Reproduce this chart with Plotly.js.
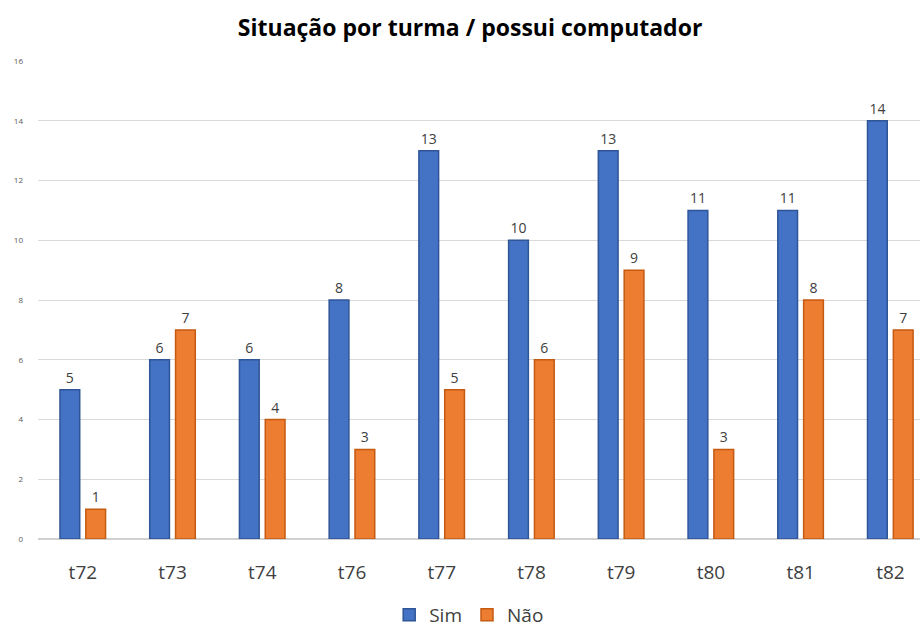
<!DOCTYPE html>
<html>
<head>
<meta charset="utf-8">
<script src="https://cdn.plot.ly/plotly-3.0.1.min.js"></script>
<style>html,body{margin:0;padding:0;background:#fff;}#chart{width:920px;height:630px;}</style>
</head>
<body>
<div id="chart"></div>
<script>
const categories = ["t72", "t73", "t74", "t76", "t77", "t78", "t79", "t80", "t81", "t82"];
const simValues = [5, 6, 6, 8, 13, 10, 13, 11, 11, 14];
const naoValues = [1, 7, 4, 3, 5, 6, 9, 3, 8, 7];
const yTicks = [0, 2, 4, 6, 8, 10, 12, 14, 16];

const FONT = "'Open Sans', Lato, sans-serif";
const textFont = {family: FONT, size: 14, color: "#404040"};

const traces = [
  {
    type: "bar", name: "Sim", x: categories, y: simValues,
    text: simValues.map(String), textposition: "outside", textfont: textFont, cliponaxis: false,
    marker: {color: "#4472C4", line: {color: "#2F5597", width: 1.5}},
    width: 0.22, offset: -0.255
  },
  {
    type: "bar", name: "Não", x: categories, y: naoValues,
    text: naoValues.map(String), textposition: "outside", textfont: textFont, cliponaxis: false,
    marker: {color: "#ED7D31", line: {color: "#C55A11", width: 1.5}},
    width: 0.22, offset: 0.033
  }
];

const layout = {
  width: 920, height: 630,
  margin: {l: 38, r: 0, t: 61, b: 91, autoexpand: false},
  paper_bgcolor: "#ffffff", plot_bgcolor: "#ffffff",
  barmode: "overlay",
  title: {
    text: "<b>Situação por turma / possui computador</b>",
    font: {family: FONT, size: 23, color: "#000000"},
    x: 0.511, xanchor: "center", yref: "container", y: 0.955, yanchor: "middle"
  },
  xaxis: {
    type: "category", range: [-0.5, 9.33], automargin: false,
    showgrid: false, zeroline: false, showline: false, ticks: "",
    tickfont: {family: FONT, size: 19, color: "#404040"},
    ticklabelstandoff: 20
  },
  yaxis: {
    range: [0, 16], tickvals: yTicks, ticktext: yTicks.map(String), automargin: false,
    showgrid: true, gridcolor: "#d9d9d9", gridwidth: 1,
    zeroline: true, zerolinecolor: "#d0d0d0", zerolinewidth: 1.5,
    showline: false, ticks: "",
    tickfont: {family: FONT, size: 8, color: "#595959"},
    ticklabelstandoff: 14
  },
  showlegend: true,
  legend: {
    orientation: "h", xref: "container", x: 0.51, xanchor: "center",
    yref: "container", y: 0.024, yanchor: "middle",
    font: {family: FONT, size: 19, color: "#404040"},
    itemwidth: 30, traceorder: "normal"
  }
};

Plotly.newPlot("chart", traces, layout, {displayModeBar: false, staticPlot: true});
</script>
</body>
</html>
